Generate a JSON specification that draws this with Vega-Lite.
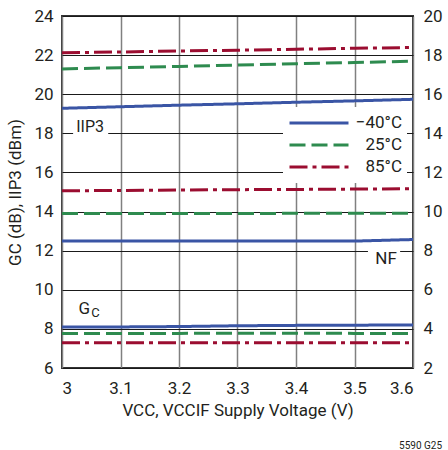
{
  "$schema": "https://vega.github.io/schema/vega-lite/v6.json",
  "width": 351,
  "height": 352,
  "autosize": {"type": "none"},
  "padding": {"left": 62, "top": 16, "right": 35, "bottom": 82},
  "background": "white",
  "datasets": {
    "gain_iip3": [
      {"vcc": 3.0, "param": "IIP3", "temp": "−40°C", "value": 19.28},
      {"vcc": 3.1, "param": "IIP3", "temp": "−40°C", "value": 19.36},
      {"vcc": 3.2, "param": "IIP3", "temp": "−40°C", "value": 19.44},
      {"vcc": 3.3, "param": "IIP3", "temp": "−40°C", "value": 19.51},
      {"vcc": 3.4, "param": "IIP3", "temp": "−40°C", "value": 19.59},
      {"vcc": 3.5, "param": "IIP3", "temp": "−40°C", "value": 19.66},
      {"vcc": 3.6, "param": "IIP3", "temp": "−40°C", "value": 19.74},
      {"vcc": 3.0, "param": "IIP3", "temp": "25°C", "value": 21.29},
      {"vcc": 3.1, "param": "IIP3", "temp": "25°C", "value": 21.36},
      {"vcc": 3.2, "param": "IIP3", "temp": "25°C", "value": 21.42},
      {"vcc": 3.3, "param": "IIP3", "temp": "25°C", "value": 21.49},
      {"vcc": 3.4, "param": "IIP3", "temp": "25°C", "value": 21.56},
      {"vcc": 3.5, "param": "IIP3", "temp": "25°C", "value": 21.62},
      {"vcc": 3.6, "param": "IIP3", "temp": "25°C", "value": 21.69},
      {"vcc": 3.0, "param": "IIP3", "temp": "85°C", "value": 22.12},
      {"vcc": 3.1, "param": "IIP3", "temp": "85°C", "value": 22.16},
      {"vcc": 3.2, "param": "IIP3", "temp": "85°C", "value": 22.21},
      {"vcc": 3.3, "param": "IIP3", "temp": "85°C", "value": 22.25},
      {"vcc": 3.4, "param": "IIP3", "temp": "85°C", "value": 22.30},
      {"vcc": 3.5, "param": "IIP3", "temp": "85°C", "value": 22.35},
      {"vcc": 3.6, "param": "IIP3", "temp": "85°C", "value": 22.39},
      {"vcc": 3.0, "param": "GC", "temp": "−40°C", "value": 8.10},
      {"vcc": 3.1, "param": "GC", "temp": "−40°C", "value": 8.10},
      {"vcc": 3.2, "param": "GC", "temp": "−40°C", "value": 8.12},
      {"vcc": 3.3, "param": "GC", "temp": "−40°C", "value": 8.16},
      {"vcc": 3.4, "param": "GC", "temp": "−40°C", "value": 8.18},
      {"vcc": 3.5, "param": "GC", "temp": "−40°C", "value": 8.19},
      {"vcc": 3.6, "param": "GC", "temp": "−40°C", "value": 8.20},
      {"vcc": 3.0, "param": "GC", "temp": "25°C", "value": 7.77},
      {"vcc": 3.1, "param": "GC", "temp": "25°C", "value": 7.77},
      {"vcc": 3.2, "param": "GC", "temp": "25°C", "value": 7.77},
      {"vcc": 3.3, "param": "GC", "temp": "25°C", "value": 7.78},
      {"vcc": 3.4, "param": "GC", "temp": "25°C", "value": 7.78},
      {"vcc": 3.5, "param": "GC", "temp": "25°C", "value": 7.77},
      {"vcc": 3.6, "param": "GC", "temp": "25°C", "value": 7.77},
      {"vcc": 3.0, "param": "GC", "temp": "85°C", "value": 7.29},
      {"vcc": 3.1, "param": "GC", "temp": "85°C", "value": 7.29},
      {"vcc": 3.2, "param": "GC", "temp": "85°C", "value": 7.29},
      {"vcc": 3.3, "param": "GC", "temp": "85°C", "value": 7.29},
      {"vcc": 3.4, "param": "GC", "temp": "85°C", "value": 7.29},
      {"vcc": 3.5, "param": "GC", "temp": "85°C", "value": 7.29},
      {"vcc": 3.6, "param": "GC", "temp": "85°C", "value": 7.29}
    ],
    "nf": [
      {"vcc": 3.0, "temp": "−40°C", "value": 8.49},
      {"vcc": 3.1, "temp": "−40°C", "value": 8.49},
      {"vcc": 3.2, "temp": "−40°C", "value": 8.49},
      {"vcc": 3.3, "temp": "−40°C", "value": 8.49},
      {"vcc": 3.4, "temp": "−40°C", "value": 8.49},
      {"vcc": 3.5, "temp": "−40°C", "value": 8.49},
      {"vcc": 3.6, "temp": "−40°C", "value": 8.57},
      {"vcc": 3.0, "temp": "25°C", "value": 9.90},
      {"vcc": 3.1, "temp": "25°C", "value": 9.90},
      {"vcc": 3.2, "temp": "25°C", "value": 9.90},
      {"vcc": 3.3, "temp": "25°C", "value": 9.90},
      {"vcc": 3.4, "temp": "25°C", "value": 9.91},
      {"vcc": 3.5, "temp": "25°C", "value": 9.91},
      {"vcc": 3.6, "temp": "25°C", "value": 9.91},
      {"vcc": 3.0, "temp": "85°C", "value": 11.06},
      {"vcc": 3.1, "temp": "85°C", "value": 11.08},
      {"vcc": 3.2, "temp": "85°C", "value": 11.10},
      {"vcc": 3.3, "temp": "85°C", "value": 11.12},
      {"vcc": 3.4, "temp": "85°C", "value": 11.13},
      {"vcc": 3.5, "temp": "85°C", "value": 11.15},
      {"vcc": 3.6, "temp": "85°C", "value": 11.17}
    ]
  },
  "config": {
    "font": "Roboto",
    "view": {"stroke": "#333333", "strokeWidth": 2},
    "axis": {
      "labelFont": "Roboto",
      "labelFontSize": 17,
      "labelColor": "#231f20",
      "labelOverlap": false,
      "titleFont": "Roboto",
      "titleFontSize": 17,
      "titleFontWeight": "normal",
      "titleColor": "#231f20",
      "domain": false,
      "ticks": false
    },
    "axisLeft": {
      "tickCount": 12,
      "grid": true,
      "gridColor": "#1a1a1a",
      "gridWidth": 1,
      "labelPadding": 9,
      "titlePadding": 9
    },
    "axisRight": {
      "tickCount": 12,
      "grid": false,
      "labelPadding": 10
    },
    "legend": {
      "orient": "none",
      "legendX": 221,
      "legendY": 91,
      "title": null,
      "fillColor": "white",
      "padding": 5,
      "symbolType": "stroke",
      "symbolSize": 3481,
      "symbolStrokeWidth": 3,
      "clipHeight": 22,
      "rowPadding": 0,
      "labelAlign": "right",
      "labelOffset": 52,
      "labelFont": "Roboto",
      "labelFontSize": 17,
      "labelColor": "#231f20"
    },
    "text": {"font": "Roboto", "color": "#231f20"}
  },
  "title": {
    "text": "5590 G25",
    "orient": "bottom",
    "anchor": "end",
    "font": "Roboto",
    "fontSize": 10,
    "fontWeight": "normal",
    "color": "#231f20",
    "offset": 23
  },
  "layer": [
    {
      "data": {"name": "gain_iip3"},
      "layer": [
        {
          "data": {"values": [{}]},
          "mark": {"type": "rect", "fill": "white"},
          "encoding": {
            "x": {"datum": 3.019},
            "x2": {"datum": 3.079},
            "y": {"datum": 18.65},
            "y2": {"datum": 17.9}
          }
        },
        {
          "data": {"values": [{}]},
          "mark": {"type": "rect", "fill": "white"},
          "encoding": {
            "x": {"datum": 3.523},
            "x2": {"datum": 3.578},
            "y": {"datum": 12.2},
            "y2": {"datum": 11.15}
          }
        },
        {
          "mark": {"type": "line", "strokeWidth": 3},
          "encoding": {
            "x": {
              "field": "vcc",
              "type": "quantitative",
              "scale": {"domain": [3, 3.6], "nice": false, "zero": false},
              "axis": {
                "values": [3, 3.1, 3.2, 3.3, 3.4, 3.5, 3.6],
                "tickCount": 12,
                "format": "~g",
                "title": "VCC, VCCIF Supply Voltage (V)",
                "grid": true,
                "gridColor": "#808080",
                "gridWidth": 1.5,
                "labelPadding": 12,
                "titlePadding": 6
              }
            },
            "y": {
              "field": "value",
              "type": "quantitative",
              "scale": {"domain": [6, 24], "nice": false, "zero": false},
              "axis": {
                "orient": "left",
                "values": [6, 8, 10, 12, 14, 16, 18, 20, 22, 24],
                "tickCount": 12,
                "title": "GC (dB), IIP3 (dBm)"
              }
            },
            "color": {
              "field": "temp",
              "type": "nominal",
              "scale": {"domain": ["−40°C", "25°C", "85°C"], "range": ["#3a55a5", "#2e8b4f", "#9b0d30"]}
            },
            "strokeDash": {
              "field": "temp",
              "type": "nominal",
              "scale": {"domain": ["−40°C", "25°C", "85°C"], "range": [[1, 0], [16, 6], [18, 5, 4, 5]]}
            },
            "detail": {"field": "param"}
          }
        },
        {
          "data": {"values": [{}]},
          "mark": {"type": "text", "text": "IIP3", "fontSize": 16, "align": "center", "baseline": "middle"},
          "encoding": {"x": {"datum": 3.048}, "y": {"datum": 18.3}}
        },
        {
          "data": {"values": [{}]},
          "mark": {"type": "text", "text": "NF", "fontSize": 17, "align": "center", "baseline": "middle"},
          "encoding": {"x": {"datum": 3.554}, "y": {"datum": 11.55}}
        },
        {
          "data": {"values": [{}]},
          "mark": {"type": "text", "text": "G", "fontSize": 17, "align": "right", "baseline": "middle"},
          "encoding": {"x": {"datum": 3.0479}, "y": {"datum": 9.04}}
        },
        {
          "data": {"values": [{}]},
          "mark": {"type": "text", "text": "C", "fontSize": 13, "align": "left", "baseline": "middle"},
          "encoding": {"x": {"datum": 3.0499}, "y": {"datum": 8.82}}
        }
      ]
    },
    {
      "data": {"name": "nf"},
      "mark": {"type": "line", "strokeWidth": 3},
      "encoding": {
        "x": {"field": "vcc", "type": "quantitative"},
        "y": {
          "field": "value",
          "type": "quantitative",
          "scale": {"domain": [2, 20], "nice": false, "zero": false},
          "axis": {
            "orient": "right",
            "values": [2, 4, 6, 8, 10, 12, 14, 16, 18, 20],
            "tickCount": 12,
            "title": null
          }
        },
        "color": {
          "field": "temp",
          "type": "nominal",
          "scale": {"domain": ["−40°C", "25°C", "85°C"], "range": ["#3a55a5", "#2e8b4f", "#9b0d30"]}
        },
        "strokeDash": {
          "field": "temp",
          "type": "nominal",
          "scale": {"domain": ["−40°C", "25°C", "85°C"], "range": [[1, 0], [16, 6], [18, 5, 4, 5]]}
        }
      }
    }
  ],
  "resolve": {"scale": {"y": "independent"}}
}
